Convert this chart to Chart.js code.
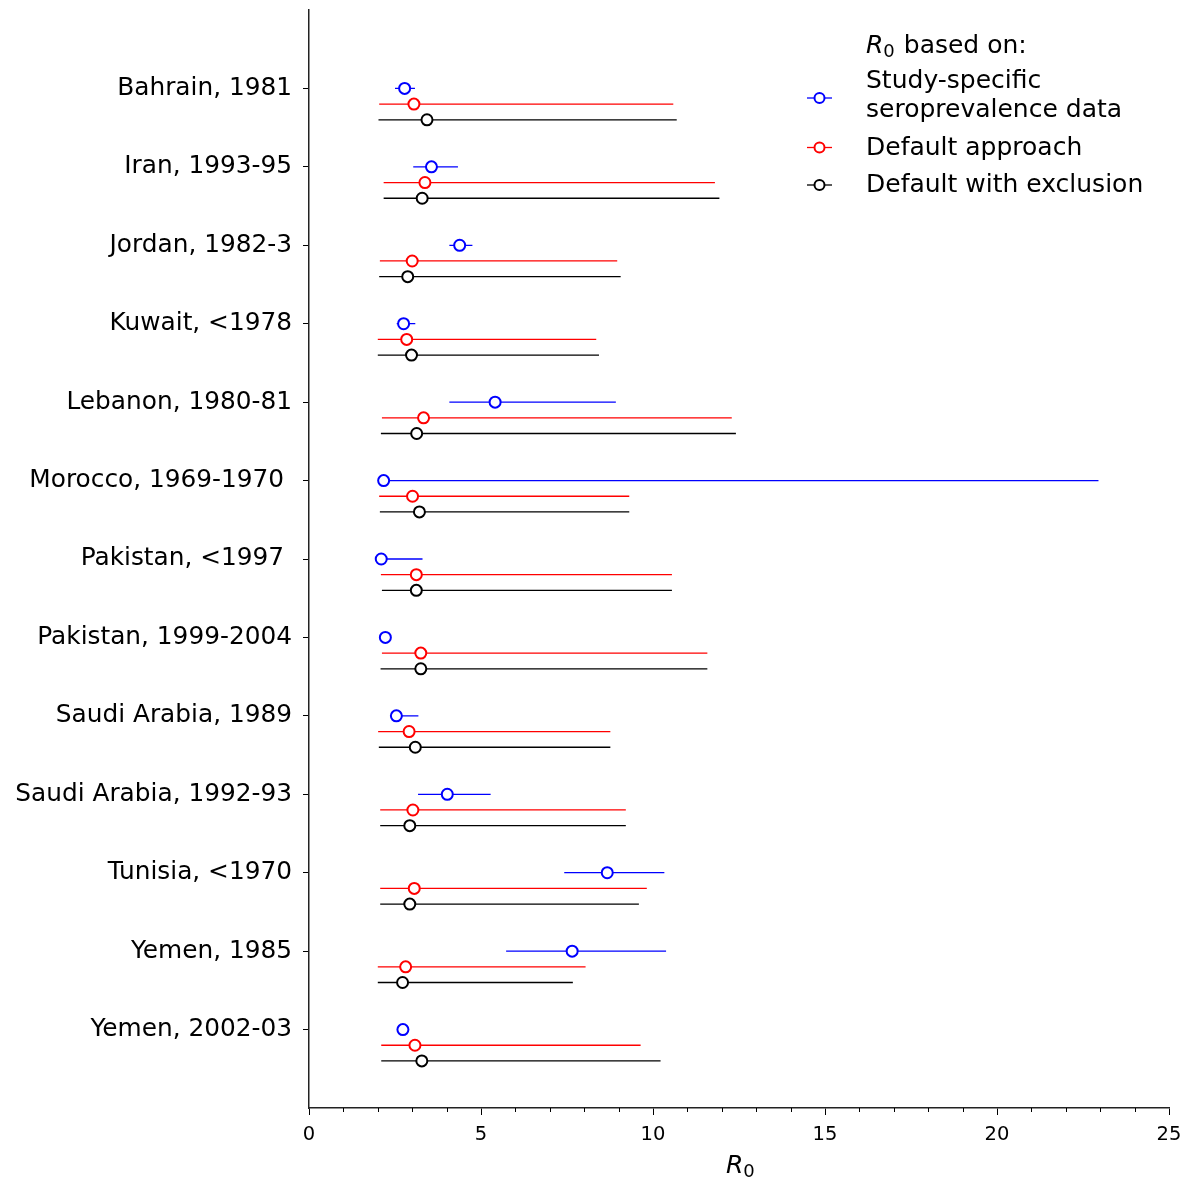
<!DOCTYPE html>
<html>
<head>
<meta charset="utf-8">
<script src="https://cdn.jsdelivr.net/npm/chart.js@4/dist/chart.umd.min.js"></script>
<style>
	html, body { margin: 0; padding: 0; background: #fff; }
	#wrap { width: 1195px; height: 1180px; }
</style>
</head>
<body>
<div id="wrap"><canvas id="chart" width="1195" height="1180"></canvas></div>
<script>
const studies = [
	'Bahrain, 1981', 'Iran, 1993-95', 'Jordan, 1982-3', 'Kuwait, <1978',
	'Lebanon, 1980-81', 'Morocco, 1969-1970 ', 'Pakistan, <1997 ', 'Pakistan, 1999-2004',
	'Saudi Arabia, 1989', 'Saudi Arabia, 1992-93', 'Tunisia, <1970', 'Yemen, 1985', 'Yemen, 2002-03',
];

// R0 from study-specific seroprevalence data (null = no interval shown)
const specificR0 = [2.78, 3.56, 4.38, 2.75, 5.41, 2.17, 2.10, 2.22, 2.54, 4.02, 8.67, 7.65, 2.73];
const specificLow = [2.50, 3.03, 4.08, 2.55, 4.08, 2.12, 2.10, null, 2.45, 3.17, 7.42, 5.73, null];
const specificHigh = [3.08, 4.33, 4.75, 3.09, 8.92, 22.95, 3.30, null, 3.18, 5.28, 10.33, 10.38, null];

// default approach
const defaultR0 = [3.05, 3.37, 3.00, 2.84, 3.33, 3.01, 3.12, 3.25, 2.91, 3.02, 3.06, 2.81, 3.08];
const defaultLow = [2.04, 2.17, 2.06, 2.00, 2.12, 2.04, 2.09, 2.12, 2.01, 2.07, 2.07, 2.00, 2.10];
const defaultHigh = [10.59, 11.80, 8.96, 8.35, 12.29, 9.31, 10.55, 11.58, 8.76, 9.21, 9.82, 8.04, 9.64];

// default with exclusion
const exclR0 = [3.43, 3.29, 2.87, 2.98, 3.13, 3.21, 3.12, 3.25, 3.09, 2.93, 2.93, 2.72, 3.28];
const exclLow = [2.02, 2.17, 2.04, 2.00, 2.09, 2.06, 2.12, 2.08, 2.03, 2.07, 2.07, 2.00, 2.10];
const exclHigh = [10.69, 11.93, 9.06, 8.43, 12.41, 9.31, 10.55, 11.58, 8.76, 9.21, 9.59, 7.67, 10.22];

const xTicks = [0, 5, 10, 15, 20, 25];
const xMinorTicks = [1, 2, 3, 4, 6, 7, 8, 9, 11, 12, 13, 14, 16, 17, 18, 19, 21, 22, 23, 24];

const series = [
	{ label: ['Study-specific', 'seroprevalence data'], color: 'blue', mid: specificR0, lo: specificLow, hi: specificHigh, shift: 0 },
	{ label: ['Default approach'], color: 'red', mid: defaultR0, lo: defaultLow, hi: defaultHigh, shift: 0.2 },
	{ label: ['Default with exclusion'], color: 'black', mid: exclR0, lo: exclLow, hi: exclHigh, shift: 0.4 },
];

const FONT = 'DejaVu Sans';
Chart.defaults.font.family = FONT;
Chart.defaults.color = '#000';

function whiskers(s) {
	const pts = [];
	s.mid.forEach((v, i) => {
		if (s.lo[i] == null) {
			return;
		}
		pts.push({ x: s.lo[i], y: i + s.shift }, { x: s.hi[i], y: i + s.shift }, { x: null, y: null });
	});
	return pts;
}

const datasets = [];
series.forEach((s) => {
	datasets.push({
		data: whiskers(s),
		showLine: true,
		spanGaps: false,
		borderColor: s.color,
		borderWidth: 1.3,
		pointRadius: 0,
		order: 1,
	});
	datasets.push({
		data: s.mid.map((v, i) => ({ x: v, y: i + s.shift })),
		showLine: false,
		pointRadius: 5.5,
		pointBorderWidth: 2,
		pointBorderColor: s.color,
		pointBackgroundColor: '#fff',
		order: 0,
	});
});

function drawR0(ctx, x, y, size) {
	ctx.font = 'italic ' + size + 'px "' + FONT + '"';
	ctx.fillText('R', x, y);
	const w = ctx.measureText('R').width;
	ctx.font = Math.round(size * 0.7) + 'px "' + FONT + '"';
	ctx.fillText('0', x + w, y + size * 0.16);
	return w + ctx.measureText('0').width;
}

const decorations = {
	id: 'decorations',
	afterDraw(chart) {
		const ctx = chart.ctx;
		const xs = chart.scales.x;
		const bottom = chart.chartArea.bottom;
		ctx.save();
		// minor ticks
		ctx.strokeStyle = '#000';
		ctx.lineWidth = 1;
		xMinorTicks.forEach((v) => {
			const px = Math.round(xs.getPixelForValue(v)) + 0.5;
			ctx.beginPath();
			ctx.moveTo(px, bottom);
			ctx.lineTo(px, bottom + 4);
			ctx.stroke();
		});

		// axis title
		ctx.fillStyle = '#000';
		ctx.textBaseline = 'alphabetic';
		ctx.textAlign = 'left';
		drawR0(ctx, 726, 1173, 25);

		// legend
		const tx = 866;
		const mx = 819.5;
		const w = drawR0(ctx, tx, 53, 25);
		ctx.font = '25px "' + FONT + '"';
		ctx.fillText(' based on:', tx + w + 1, 53);
		const rows = [
			{ s: series[0], lines: [88, 117], my: 98 },
			{ s: series[1], lines: [155], my: 147.5 },
			{ s: series[2], lines: [191.5], my: 185 },
		];
		rows.forEach((r) => {
			ctx.font = '25px "' + FONT + '"';
			ctx.fillStyle = '#000';
			r.s.label.forEach((t, k) => ctx.fillText(t, tx, r.lines[k]));
			ctx.strokeStyle = r.s.color;
			ctx.lineWidth = 1.3;
			ctx.beginPath();
			ctx.moveTo(mx - 12.5, r.my);
			ctx.lineTo(mx + 12.5, r.my);
			ctx.stroke();
			ctx.beginPath();
			ctx.arc(mx, r.my, 5, 0, Math.PI * 2);
			ctx.fillStyle = '#fff';
			ctx.fill();
			ctx.lineWidth = 2;
			ctx.stroke();
		});
		ctx.restore();
	},
};

new Chart(document.getElementById('chart'), {
	type: 'scatter',
	data: { datasets },
	plugins: [decorations],
	options: {
		responsive: false,
		animation: false,
		layout: { padding: { top: 10, right: 26, left: 0, bottom: 0 } },
		plugins: {
			legend: { display: false },
			tooltip: { enabled: false },
		},
		scales: {
			x: {
				type: 'linear',
				min: 0,
				max: 25,
				afterBuildTicks(scale) {
					scale.ticks = xTicks.map((v) => ({ value: v }));
				},
				afterFit(scale) {
					scale.height = 72;
				},
				ticks: {
					font: { size: 19.5 },
					color: '#000',
					padding: 8,
					maxRotation: 0,
				},
				grid: { drawOnChartArea: false, drawTicks: true, tickLength: 7, color: '#000', lineWidth: 1 },
				border: { display: true, color: '#222', width: 1.5 },
			},
			y: {
				type: 'linear',
				min: -1,
				max: 13,
				reverse: true,
				afterBuildTicks(scale) {
					scale.ticks = studies.map((_, i) => ({ value: i }));
				},
				afterFit(scale) {
					scale.width = 309;
					scale.paddingTop = 0;
					scale.paddingBottom = 0;
				},
				ticks: {
					font: { size: 24.8 },
					color: '#000',
					padding: 11,
					callback: (v) => studies[v],
				},
				grid: { drawOnChartArea: false, drawTicks: true, tickLength: 6, color: '#000', lineWidth: 1 },
				border: { display: true, color: '#222', width: 1.5 },
			},
		},
	},
});
</script>
</body>
</html>
